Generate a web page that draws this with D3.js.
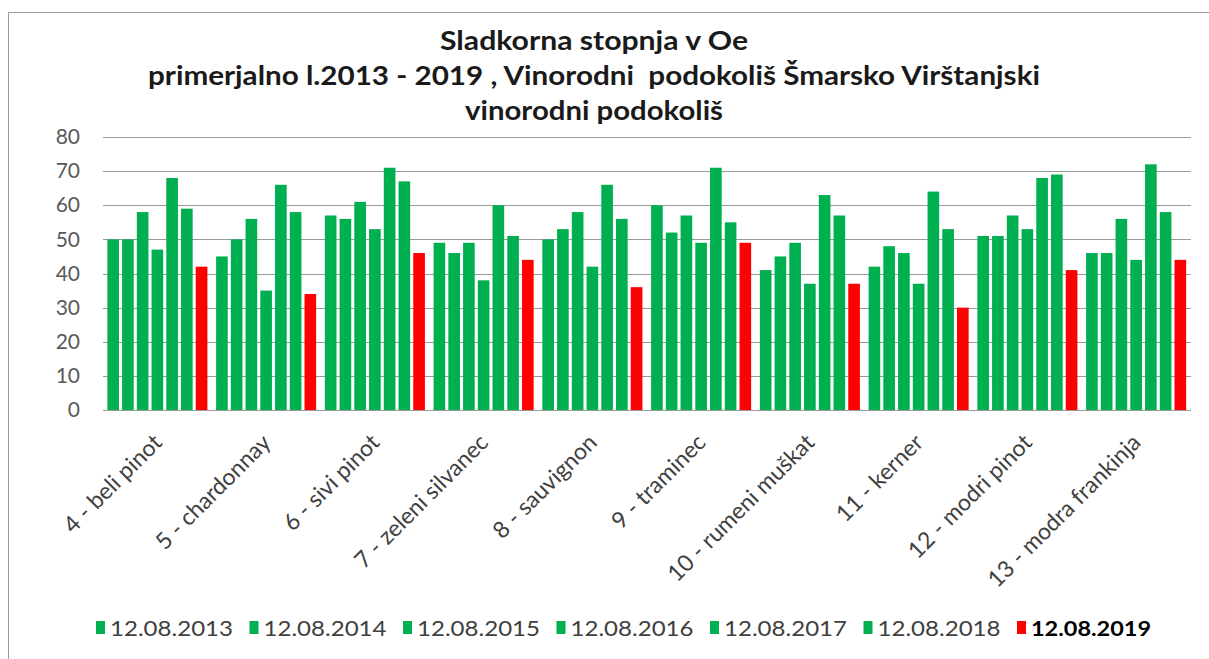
<!DOCTYPE html>
<html>
<head>
<meta charset="utf-8">
<script src="https://cdn.jsdelivr.net/npm/d3@7"></script>
<style>
    body { margin: 0; background: #fff; }
    svg { display: block; }
</style>
</head>
<body>
<div id="chart"></div>
<script>
// sorte (kategorije na osi x)
const varieties = ['4 - beli pinot', '5 - chardonnay', '6 - sivi pinot', '7 - zeleni silvanec', '8 - sauvignon',
    '9 - traminec', '10 - rumeni muškat', '11 - kerner', '12 - modri pinot', '13 - modra frankinja'];
// datumi vzorčenja (serije)
const dates = ['12.08.2013', '12.08.2014', '12.08.2015', '12.08.2016', '12.08.2017', '12.08.2018', '12.08.2019'];
// sladkorna stopnja v Oe, ena vrstica na sorto, en stolpec na datum
const oe = [
    [50, 50, 58, 47, 68, 59, 42],
    [45, 50, 56, 35, 66, 58, 34],
    [57, 56, 61, 53, 71, 67, 46],
    [49, 46, 49, 38, 60, 51, 44],
    [50, 53, 58, 42, 66, 56, 36],
    [60, 52, 57, 49, 71, 55, 49],
    [41, 45, 49, 37, 63, 57, 37],
    [42, 48, 46, 37, 64, 53, 30],
    [51, 51, 57, 53, 68, 69, 41],
    [46, 46, 56, 44, 72, 58, 44]
];
const yTicks = [0, 10, 20, 30, 40, 50, 60, 70, 80];
const titleLines = ['Sladkorna stopnja v Oe',
    'primerjalno l.2013 - 2019 , Vinorodni  podokoliš Šmarsko Virštanjski',
    'vinorodni podokoliš'];

function BarChart() {
    const width = 1209;
    const height = 659;
    const plot = { left: 103, right: 1190.5, top: 137, bottom: 410 };
    const font = "Lato, 'Open Sans', sans-serif";
    const green = "#00b050";
    const red = "#ff0000";
    const last = dates[dates.length - 1];

    const svg = d3.select("#chart")
        .append("svg")
        .attr("width", width)
        .attr("height", height);

    // okvir grafa
    svg.append("rect")
        .attr("x", 8.5)
        .attr("y", 12.5)
        .attr("width", width)
        .attr("height", height)
        .attr("fill", "none")
        .attr("stroke", "#9a9a9a");

    // naslov - širine vrstic kot na originalu
    const titleWidths = [308, 892, 258];
    svg.append("g")
        .selectAll("text")
        .data(titleLines)
        .join("text")
        .attr("x", 594)
        .attr("y", (d, i) => 50 + i * 35)
        .attr("text-anchor", "middle")
        .attr("font-family", font)
        .attr("font-weight", "bold")
        .attr("font-size", "26px")
        .attr("fill", "#1a1a1a")
        .attr("textLength", (d, i) => titleWidths[i])
        .attr("lengthAdjust", "spacingAndGlyphs")
        .attr("xml:space", "preserve")
        .text(d => d);

    // scales
    const x0 = d3.scaleBand()
        .domain(varieties)
        .range([plot.left, plot.right])
        .paddingInner(0.08)
        .paddingOuter(0.04);

    const x1 = d3.scaleBand()
        .domain(dates)
        .range([0, x0.bandwidth()])
        .paddingInner(0.21);

    const y = d3.scaleLinear()
        .domain([0, 80])
        .range([plot.bottom, plot.top]);

    // mreža in oznake na osi y
    const yAxis = svg.append("g")
        .attr("transform", `translate(${plot.left},0)`)
        .call(d3.axisLeft(y).tickValues(yTicks).tickSize(-(plot.right - plot.left)).tickPadding(23));
    yAxis.select(".domain").remove();
    yAxis.selectAll(".tick line")
        .attr("stroke", "#9a9a9a")
        .attr("shape-rendering", "crispEdges");
    yAxis.selectAll(".tick text")
        .attr("font-family", font)
        .attr("font-size", "21px")
        .attr("fill", "#595959");

    // stolpci
    const groups = svg.append("g")
        .selectAll("g")
        .data(varieties)
        .join("g")
        .attr("transform", d => `translate(${x0(d)},0)`);

    groups.selectAll("rect")
        .data((d, i) => dates.map((date, j) => ({ date: date, value: oe[i][j] })))
        .join("rect")
        .attr("x", d => x1(d.date))
        .attr("y", d => y(d.value))
        .attr("width", x1.bandwidth())
        .attr("height", d => y(0) - y(d.value))
        .attr("fill", d => d.date === last ? red : green);

    // os x
    svg.append("line")
        .attr("x1", plot.left)
        .attr("x2", plot.right)
        .attr("y1", y(0) + 0.5)
        .attr("y2", y(0) + 0.5)
        .attr("stroke", "#9a9a9a");

    // oznake sort, zasukane za 45 stopinj
    svg.append("g")
        .selectAll("text")
        .data(varieties)
        .join("text")
        .attr("transform", d => `translate(${x0(d) + x0.bandwidth() / 2 + 6},${plot.bottom + 34}) rotate(-45)`)
        .attr("text-anchor", "end")
        .attr("font-family", font)
        .attr("font-size", "23px")
        .attr("fill", "#404040")
        .text(d => d);

    // legenda
    const legend = svg.append("g")
        .selectAll("g")
        .data(dates)
        .join("g")
        .attr("transform", (d, i) => `translate(${96 + i * 153.5},628)`);

    legend.append("rect")
        .attr("x", 0)
        .attr("y", -7)
        .attr("width", 9)
        .attr("height", 13)
        .attr("fill", d => d === last ? red : green);

    legend.append("text")
        .attr("x", 14)
        .attr("dy", "0.36em")
        .attr("font-family", font)
        .attr("font-size", "21px")
        .attr("font-weight", d => d === last ? "bold" : "normal")
        .attr("fill", d => d === last ? "#000" : "#404040")
        .attr("textLength", d => d === last ? 120 : 123)
        .attr("lengthAdjust", "spacingAndGlyphs")
        .text(d => d);

    return svg.node();
}

BarChart();
</script>
</body>
</html>
